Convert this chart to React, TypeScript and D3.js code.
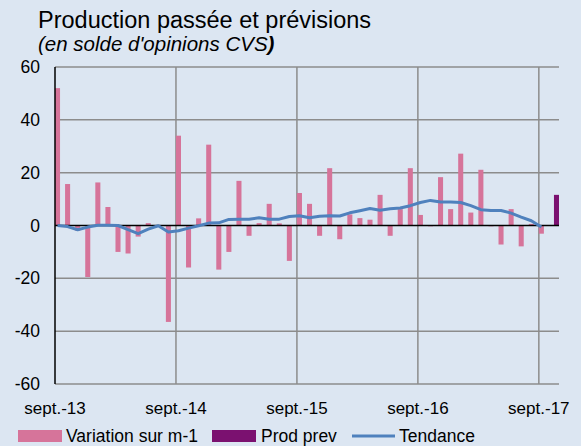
import * as d3 from "d3";

// months Sep-13 .. Oct-17
const months = [
  "2013-09", "2013-10", "2013-11", "2013-12",
  "2014-01", "2014-02", "2014-03", "2014-04", "2014-05", "2014-06",
  "2014-07", "2014-08", "2014-09", "2014-10", "2014-11", "2014-12",
  "2015-01", "2015-02", "2015-03", "2015-04", "2015-05", "2015-06",
  "2015-07", "2015-08", "2015-09", "2015-10", "2015-11", "2015-12",
  "2016-01", "2016-02", "2016-03", "2016-04", "2016-05", "2016-06",
  "2016-07", "2016-08", "2016-09", "2016-10", "2016-11", "2016-12",
  "2017-01", "2017-02", "2017-03", "2017-04", "2017-05", "2017-06",
  "2017-07", "2017-08", "2017-09", "2017-10",
];

const variation = [
  52, 15.7, -2, -19.5,
  16.3, 7, -10, -10.6, -4.2, 0.9,
  0.2, -36.5, 34, -15.9, 2.7, 30.6,
  -16.7, -10, 16.9, -3.9, 0.9, 8.2,
  0.8, -13.4, 12.3, 8.2, -3.9, 21.7,
  -5.2, 4.2, 2.8, 2.2, 11.6, -3.9,
  6.2, 21.7, 4, -0.3, 18.3, 6.2,
  27.2, 4.9, 21.1, -0.3, -7.2, 6.2,
  -7.9, 0.6, -3.1, null,
];

const prodPrev = [{ month: "2017-10", value: 11.6 }];

const tendance = [
  0, -0.4, -1.6, -0.6,
  0.1, 0.1, 0, -1.6, -3.1, -1.4,
  -0.1, -2.5, -2, -1, -0.1, 0.9,
  1, 2.3, 2.4, 2.4, 2.9, 2.4,
  2.4, 3.4, 3.7, 2.9, 3.5, 3.7,
  3.6, 4.8, 5.6, 6.4, 5.8, 6.3,
  6.6, 7.5, 8.7, 9.5, 8.9, 8.9,
  8.7, 7.5, 6, 5.7, 5.7, 4.7,
  3.2, 1.8, -0.6,
];

const xLabels = [
  { month: "2013-09", label: "sept.-13" },
  { month: "2014-09", label: "sept.-14" },
  { month: "2015-09", label: "sept.-15" },
  { month: "2016-09", label: "sept.-16" },
  { month: "2017-09", label: "sept.-17" },
];

const yTicks = [60, 40, 20, 0, -20, -40, -60];

const W = 581;
const H = 446;
const plot = { left: 55, right: 559, top: 67, bottom: 384 };
const font = "'Liberation Sans', Arial, sans-serif";

const PINK = "#d6749a";
const PURPLE = "#7b1170";
const BLUE = "#4f81bd";
const GRID = "#8c8c8c";

export default function App() {
  const x = d3.scaleBand<string>().domain(months).range([plot.left, plot.right]).padding(0);
  const bw = x.bandwidth();
  const y = d3.scaleLinear().domain([-60, 60]).range([plot.bottom, plot.top]);

  const line = d3
    .line<number>()
    .x((_, i) => (x(months[i]) as number) + bw / 4)
    .y((d) => y(d));

  return (
    <svg width={W} height={H} style={{ display: "block", position: "absolute", left: 0, top: 0 }} fontFamily={font}>
      <rect x={0} y={0} width={W} height={H} fill="#dce6f2" />

      <text x={38} y={28} fontSize={23.5} fill="#000">Production passée et prévisions</text>
      <text x={38} y={51} fontSize={20.5} fontStyle="italic" fill="#000">
        (en solde d'opinions CVS<tspan fontWeight="bold">)</tspan>
      </text>

      {/* horizontal grid */}
      {yTicks.filter((t) => t !== 0).map((t) => (
        <line key={t} x1={plot.left} x2={plot.right} y1={y(t)} y2={y(t)} stroke={GRID} strokeWidth={1.5} />
      ))}
      {/* vertical grid */}
      {xLabels.slice(1).map((d) => (
        <line key={d.month} x1={x(d.month)} x2={x(d.month)} y1={plot.top} y2={plot.bottom} stroke={GRID} strokeWidth={1.5} />
      ))}

      {/* bars */}
      {variation.map((v, i) =>
        v == null ? null : (
          <rect
            key={months[i]}
            x={x(months[i])}
            y={y(Math.max(0, v))}
            width={bw / 2}
            height={Math.abs(y(v) - y(0))}
            fill={PINK}
          />
        )
      )}
      {prodPrev.map((d) => (
        <rect
          key={d.month}
          x={(x(d.month) as number) + bw / 2}
          y={y(Math.max(0, d.value))}
          width={bw / 2}
          height={Math.abs(y(d.value) - y(0))}
          fill={PURPLE}
        />
      ))}

      {/* zero line and y axis */}
      <line x1={plot.left} x2={plot.right} y1={y(0)} y2={y(0)} stroke="#000" strokeWidth={1.5} />
      <line x1={plot.left} x2={plot.left} y1={plot.top} y2={plot.bottom} stroke="#000" strokeWidth={1.5} />

      <path d={line(tendance) ?? ""} fill="none" stroke={BLUE} strokeWidth={3} strokeLinejoin="round" />

      {/* y tick labels */}
      {yTicks.map((t) => (
        <text key={t} x={40} y={y(t)} dy="0.35em" textAnchor="end" fontSize={17.5}>
          {t}
        </text>
      ))}

      {/* x tick labels */}
      {xLabels.map((d) => (
        <text key={d.month} x={x(d.month)} y={414} textAnchor="middle" fontSize={17}>
          {d.label}
        </text>
      ))}

      {/* legend */}
      <rect x={18} y={430} width={44} height={12} fill={PINK} />
      <text x={66} y={442} fontSize={17.5}>Variation sur m-1</text>
      <rect x={212} y={430} width={44} height={12} fill={PURPLE} />
      <text x={261} y={442} fontSize={17.5}>Prod prev</text>
      <line x1={352} x2={395} y1={436} y2={436} stroke={BLUE} strokeWidth={3} />
      <text x={399} y={442} fontSize={17.5}>Tendance</text>
    </svg>
  );
}
